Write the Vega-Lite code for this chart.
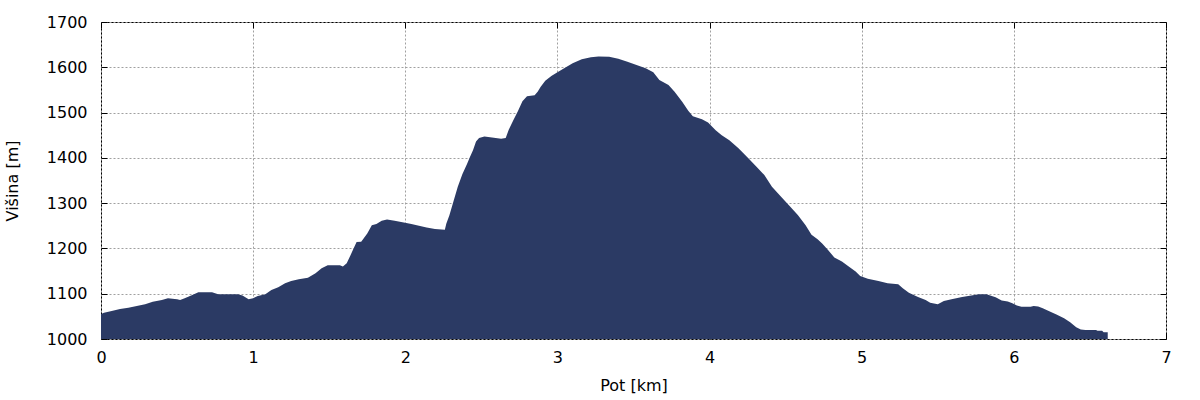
{
  "$schema": "https://vega.github.io/schema/vega-lite/v6.json",
  "width": 1065,
  "height": 317,
  "autosize": {"type": "none"},
  "padding": {"left": 101, "top": 22, "right": 34, "bottom": 61},
  "background": "white",
  "config": {
    "view": {"stroke": "black", "strokeWidth": 1},
    "axis": {
      "labelFont": "DejaVu Sans",
      "titleFont": "DejaVu Sans",
      "labelFontSize": 16,
      "titleFontSize": 16,
      "titleFontWeight": "normal",
      "labelColor": "black",
      "titleColor": "black",
      "domain": false,
      "gridColor": "#a0a0a0",
      "gridDash": [2, 2],
      "gridWidth": 1,
      "tickColor": "black",
      "tickSize": -6,
      "labelFlush": false,
      "labelOverlap": false,
      "format": "d"
    }
  },
  "data": {
    "values": [
      {"km": 0.0, "h": 1055}, {"km": 0.02, "h": 1058}, {"km": 0.07, "h": 1062}, {"km": 0.125, "h": 1066},
      {"km": 0.18, "h": 1069}, {"km": 0.235, "h": 1073}, {"km": 0.29, "h": 1077}, {"km": 0.34, "h": 1082},
      {"km": 0.4, "h": 1086}, {"km": 0.44, "h": 1090}, {"km": 0.5, "h": 1088}, {"km": 0.52, "h": 1086},
      {"km": 0.55, "h": 1090}, {"km": 0.6, "h": 1097}, {"km": 0.64, "h": 1103}, {"km": 0.73, "h": 1103},
      {"km": 0.77, "h": 1099}, {"km": 0.9, "h": 1099}, {"km": 0.93, "h": 1096}, {"km": 0.97, "h": 1088},
      {"km": 1.0, "h": 1090}, {"km": 1.03, "h": 1095}, {"km": 1.08, "h": 1099}, {"km": 1.12, "h": 1108},
      {"km": 1.165, "h": 1114}, {"km": 1.21, "h": 1123}, {"km": 1.25, "h": 1128}, {"km": 1.3, "h": 1132},
      {"km": 1.36, "h": 1135}, {"km": 1.41, "h": 1145}, {"km": 1.45, "h": 1156}, {"km": 1.49, "h": 1163},
      {"km": 1.57, "h": 1163}, {"km": 1.59, "h": 1160}, {"km": 1.615, "h": 1167}, {"km": 1.64, "h": 1185},
      {"km": 1.66, "h": 1200}, {"km": 1.68, "h": 1214}, {"km": 1.71, "h": 1215}, {"km": 1.72, "h": 1219},
      {"km": 1.75, "h": 1233}, {"km": 1.78, "h": 1251}, {"km": 1.81, "h": 1254}, {"km": 1.845, "h": 1261},
      {"km": 1.88, "h": 1264}, {"km": 1.93, "h": 1261}, {"km": 1.99, "h": 1257}, {"km": 2.04, "h": 1254},
      {"km": 2.09, "h": 1250}, {"km": 2.14, "h": 1246}, {"km": 2.195, "h": 1243}, {"km": 2.26, "h": 1241},
      {"km": 2.27, "h": 1255}, {"km": 2.29, "h": 1273}, {"km": 2.315, "h": 1302}, {"km": 2.345, "h": 1336},
      {"km": 2.375, "h": 1364}, {"km": 2.405, "h": 1386}, {"km": 2.425, "h": 1402}, {"km": 2.445, "h": 1417},
      {"km": 2.465, "h": 1436}, {"km": 2.485, "h": 1444}, {"km": 2.52, "h": 1447}, {"km": 2.57, "h": 1445},
      {"km": 2.63, "h": 1442}, {"km": 2.66, "h": 1444}, {"km": 2.68, "h": 1462}, {"km": 2.71, "h": 1483},
      {"km": 2.74, "h": 1503}, {"km": 2.77, "h": 1525}, {"km": 2.8, "h": 1536}, {"km": 2.85, "h": 1538},
      {"km": 2.87, "h": 1546}, {"km": 2.89, "h": 1557}, {"km": 2.92, "h": 1570}, {"km": 2.96, "h": 1581},
      {"km": 3.0, "h": 1589}, {"km": 3.05, "h": 1599}, {"km": 3.1, "h": 1609}, {"km": 3.16, "h": 1618},
      {"km": 3.22, "h": 1622}, {"km": 3.27, "h": 1624}, {"km": 3.34, "h": 1623}, {"km": 3.4, "h": 1619},
      {"km": 3.46, "h": 1612}, {"km": 3.52, "h": 1605}, {"km": 3.58, "h": 1598}, {"km": 3.63, "h": 1589},
      {"km": 3.67, "h": 1572}, {"km": 3.73, "h": 1561}, {"km": 3.77, "h": 1546}, {"km": 3.82, "h": 1524},
      {"km": 3.86, "h": 1504}, {"km": 3.89, "h": 1492}, {"km": 3.95, "h": 1485}, {"km": 3.99, "h": 1478},
      {"km": 4.04, "h": 1461}, {"km": 4.08, "h": 1450}, {"km": 4.13, "h": 1439}, {"km": 4.19, "h": 1421},
      {"km": 4.25, "h": 1401}, {"km": 4.31, "h": 1380}, {"km": 4.36, "h": 1362}, {"km": 4.41, "h": 1336},
      {"km": 4.47, "h": 1314}, {"km": 4.52, "h": 1296}, {"km": 4.58, "h": 1274}, {"km": 4.63, "h": 1252},
      {"km": 4.67, "h": 1230}, {"km": 4.71, "h": 1220}, {"km": 4.74, "h": 1211}, {"km": 4.78, "h": 1196},
      {"km": 4.82, "h": 1180}, {"km": 4.87, "h": 1171}, {"km": 4.91, "h": 1161}, {"km": 4.96, "h": 1149},
      {"km": 4.99, "h": 1139}, {"km": 5.04, "h": 1133}, {"km": 5.11, "h": 1128}, {"km": 5.17, "h": 1123},
      {"km": 5.24, "h": 1121}, {"km": 5.27, "h": 1112}, {"km": 5.31, "h": 1102}, {"km": 5.37, "h": 1093},
      {"km": 5.42, "h": 1086}, {"km": 5.45, "h": 1080}, {"km": 5.5, "h": 1077}, {"km": 5.54, "h": 1084},
      {"km": 5.59, "h": 1088}, {"km": 5.66, "h": 1093}, {"km": 5.72, "h": 1096}, {"km": 5.77, "h": 1099},
      {"km": 5.82, "h": 1099}, {"km": 5.88, "h": 1092}, {"km": 5.92, "h": 1085}, {"km": 5.96, "h": 1083},
      {"km": 5.99, "h": 1079}, {"km": 6.02, "h": 1074}, {"km": 6.05, "h": 1071}, {"km": 6.11, "h": 1071},
      {"km": 6.13, "h": 1073}, {"km": 6.16, "h": 1072}, {"km": 6.19, "h": 1068}, {"km": 6.24, "h": 1060},
      {"km": 6.28, "h": 1054}, {"km": 6.33, "h": 1046}, {"km": 6.37, "h": 1037}, {"km": 6.41, "h": 1026},
      {"km": 6.44, "h": 1021}, {"km": 6.47, "h": 1020}, {"km": 6.54, "h": 1020}, {"km": 6.55, "h": 1018},
      {"km": 6.58, "h": 1018}, {"km": 6.59, "h": 1015}, {"km": 6.617, "h": 1015}
    ]
  },
  "layer": [
    {
      "mark": {"type": "area", "color": "#2b3a64", "interpolate": "linear"},
      "encoding": {
        "x": {
          "field": "km", "type": "quantitative",
          "scale": {"domain": [0, 7], "nice": false, "zero": false},
          "axis": {"title": "Pot [km]", "values": [0, 1, 2, 3, 4, 5, 6, 7], "labelPadding": 16, "titlePadding": 12, "grid": true}
        },
        "y": {
          "field": "h", "type": "quantitative",
          "scale": {"domain": [1000, 1700], "nice": false, "zero": false},
          "axis": {"title": "Višina [m]", "values": [1000, 1100, 1200, 1300, 1400, 1500, 1600, 1700], "labelPadding": 20, "titlePadding": 26, "grid": true}
        },
        "y2": {"datum": 1000}
      }
    },
    {
      "mark": {"type": "point", "opacity": 0},
      "encoding": {
        "x": {
          "field": "km", "type": "quantitative",
          "scale": {"domain": [0, 7], "nice": false, "zero": false},
          "axis": {"orient": "top", "title": null, "labels": false, "grid": false, "values": [0, 1, 2, 3, 4, 5, 6, 7]}
        },
        "y": {
          "field": "h", "type": "quantitative",
          "scale": {"domain": [1000, 1700], "nice": false, "zero": false},
          "axis": {"orient": "right", "title": null, "labels": false, "grid": false, "values": [1000, 1100, 1200, 1300, 1400, 1500, 1600, 1700]}
        }
      }
    }
  ],
  "resolve": {"scale": {"x": "independent", "y": "independent"}}
}
